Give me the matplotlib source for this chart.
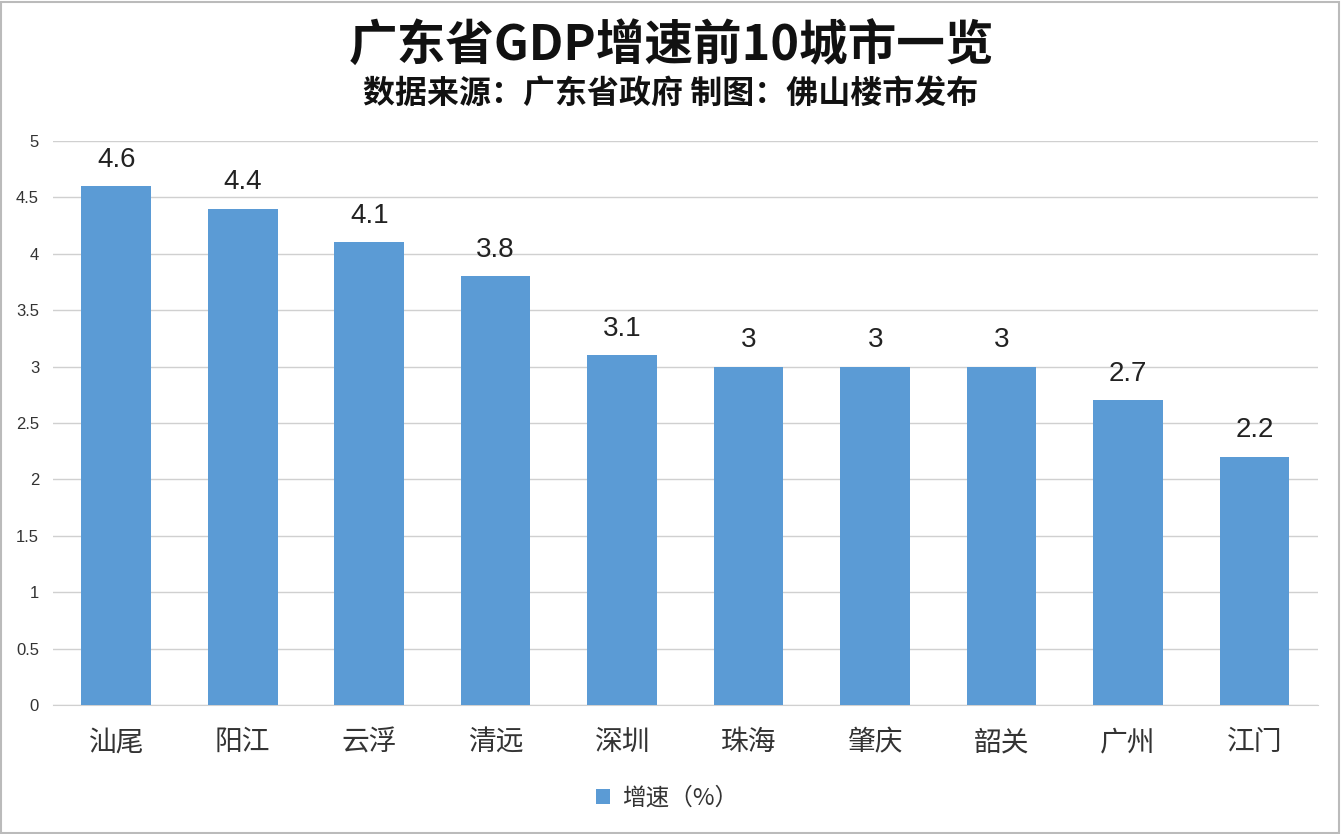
import matplotlib
matplotlib.use("Agg")
import matplotlib.pyplot as plt
from matplotlib.patches import Rectangle

plt.rcParams['font.family'] = ['Noto Sans CJK SC', 'DejaVu Sans']

cities = ["汕尾", "阳江", "云浮", "清远", "深圳", "珠海", "肇庆", "韶关", "广州", "江门"]
growth = [4.6, 4.4, 4.1, 3.8, 3.1, 3.0, 3.0, 3.0, 2.7, 2.2]
labels = ["4.6", "4.4", "4.1", "3.8", "3.1", "3", "3", "3", "2.7", "2.2"]
yticks = [0, 0.5, 1, 1.5, 2, 2.5, 3, 3.5, 4, 4.5, 5]
ytick_labels = ["0", "0.5", "1", "1.5", "2", "2.5", "3", "3.5", "4", "4.5", "5"]

bar_color = "#5B9BD5"

fig = plt.figure(figsize=(13.42, 8.34), dpi=100)
ax = fig.add_axes([0.0395, 0.1547, 0.9425, 0.6763])

x = range(len(cities))
bars = ax.bar(x, growth, width=0.55, color=bar_color, label="增速（%）", zorder=3)
for xi, v, t in zip(x, growth, labels):
    ax.text(xi, v + 0.12, t, ha="center", va="bottom", fontsize=20, color="#222222",
            family=['Liberation Sans'])

ax.set_xlim(-0.5, len(cities) - 0.5)
ax.set_ylim(0, 5)
ax.set_yticks(yticks)
ax.set_yticklabels(ytick_labels, fontsize=12, color="#333333", family=['Liberation Sans'])
ax.set_xticks(list(x))
ax.set_xticklabels(cities, fontsize=20, color="#333333")
ax.tick_params(axis="both", length=0)
ax.tick_params(axis="x", pad=16)
ax.tick_params(axis="y", pad=10)
ax.yaxis.grid(True, color="#d0d0d0", linewidth=1.0, zorder=0)
for s in ["top", "right", "left"]:
    ax.spines[s].set_visible(False)
ax.spines["bottom"].set_color("#d0d0d0")

fig.text(0.5, 0.945, "广东省GDP增速前10城市一览", ha="center", va="center",
         fontsize=35, fontweight="bold", color="#111111")
fig.text(0.5, 0.888, "数据来源：广东省政府 制图：佛山楼市发布", ha="center", va="center",
         fontsize=23, fontweight="bold", color="#111111")

fig.legend(handles=[bars], labels=["增速（%）"], loc="center", bbox_to_anchor=(0.497, 0.043),
           frameon=False, fontsize=17, handlelength=0.6, handleheight=0.6,
           handletextpad=0.5, labelcolor="#333333")

fig.patches.append(Rectangle((0.001, 0.001), 0.997, 0.997, transform=fig.transFigure,
                             fill=False, edgecolor="#bbbbbb", linewidth=1.5))

fig.savefig("out.png", dpi=100)
